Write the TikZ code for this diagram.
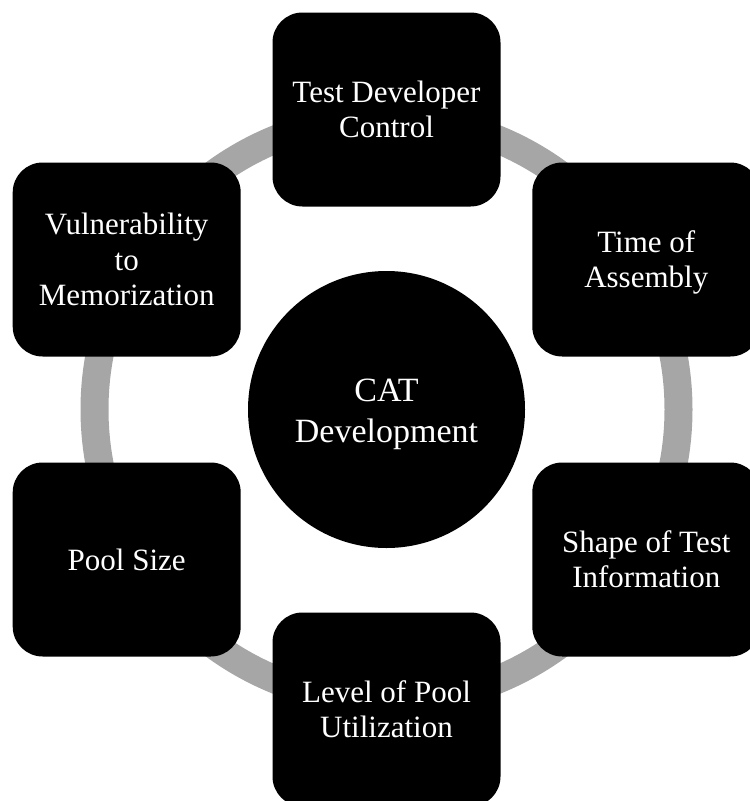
\documentclass[tikz,border=0pt]{standalone}
\usepackage{fontspec}
\setmainfont{Liberation Serif}
\definecolor{ringgray}{RGB}{166,166,166}
\newcommand{\bxs}{\rule[-7.25pt]{0pt}{35.5pt}}
\newcommand{\hbs}{\rule[-7.8pt]{0pt}{40.5pt}}
\begin{document}
\begin{tikzpicture}[x=1pt,y=-1pt,
  item/.style={fill=black, text=white, rounded corners=30pt, minimum width=228pt, minimum height=194pt, align=center, inner sep=0pt, font=\fontsize{31}{35.5}\selectfont},
  hub/.style={circle, fill=black, text=white, minimum size=277pt, align=center, inner sep=0pt, font=\fontsize{34}{40.5}\selectfont},
  ring/.style={draw=ringgray, line width=28pt}]
\clip (0,0) rectangle (750,801);
\coordinate (c) at (386.5,409.5);
\draw[ring] (c) circle[radius=292pt];
\node[hub] (hub) at (c) {\hbs CAT\\\hbs Development};
\node[item] (n1) at (386.5,109.5) {\bxs Test Developer\\\bxs Control};
\node[item] (n2) at (646.3,259.5) {\bxs Time of\\\bxs Assembly};
\node[item] (n3) at (646.3,559.5) {\bxs Shape of Test\\\bxs Information};
\node[item] (n4) at (386.5,709.5) {\bxs Level of Pool\\\bxs Utilization};
\node[item] (n5) at (126.7,559.5) {\bxs Pool Size};
\node[item] (n6) at (126.7,259.5) {\bxs Vulnerability\\\bxs to\\\bxs Memorization};
\end{tikzpicture}
\end{document}
